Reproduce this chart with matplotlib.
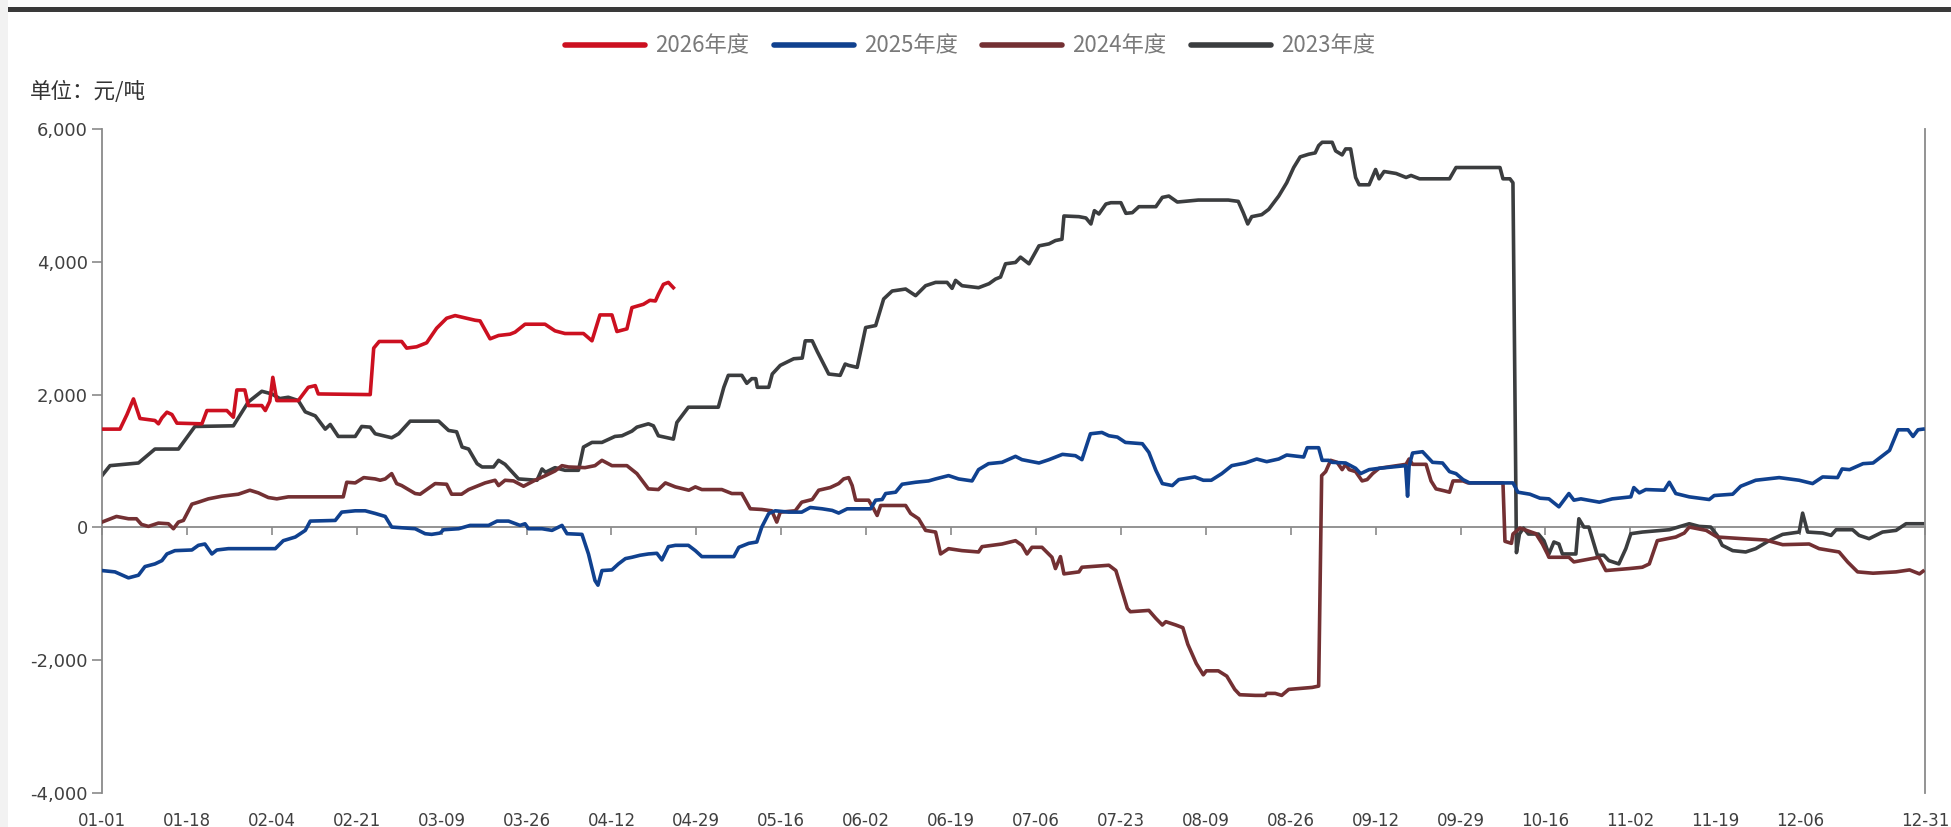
import matplotlib
matplotlib.use("Agg")
import matplotlib.pyplot as plt
from matplotlib.ticker import FuncFormatter, FixedLocator
from matplotlib.patches import Rectangle

plt.rcParams['font.family'] = ['DejaVu Sans']

# ---------------- data (x = day index from 01-01, leap-year axis) ----------------
tick_days = [0, 17, 34, 51, 68, 85, 102, 119, 136, 153, 170, 187, 204, 221, 238,
             255, 272, 289, 306, 323, 340, 365]
tick_labels = ["01-01", "01-18", "02-04", "02-21", "03-09", "03-26", "04-12", "04-29",
               "05-16", "06-02", "06-19", "07-06", "07-23", "08-09", "08-26", "09-12",
               "09-29", "10-16", "11-02", "11-19", "12-06", "12-31"]

days_2026 = [0, 3.6, 5, 6.3, 7.6, 10.6, 11.3, 12, 13, 14, 15, 20, 21, 25, 26.3, 27, 28.6,
             29.3, 32, 32.7, 33.6, 34.2, 35, 39.3, 41.3, 42.7, 43.3, 53.7, 54.4, 55.5, 60,
             61, 63, 65, 67, 69, 70.7, 74.7, 75.7, 77.7, 79.4, 81.7, 82.7, 84.7, 88.7, 90.7,
             92.7, 96.4, 98.1, 99.7, 102.1, 103.1, 105.1, 106.1, 108.4, 109.7, 110.8, 111.4,
             112.4, 113.4, 114.4]
vals_2026 = [1480, 1480, 1700, 1935, 1640, 1610, 1560, 1650, 1735, 1700, 1570, 1560, 1760,
             1760, 1660, 2070, 2070, 1835, 1835, 1760, 1900, 2260, 1910, 1910, 2110, 2135,
             2010, 2000, 2700, 2800, 2800, 2700, 2720, 2780, 3000, 3150, 3190, 3120, 3110,
             2840, 2890, 2910, 2940, 3060, 3060, 2960, 2920, 2920, 2810, 3200, 3200, 2950,
             2990, 3310, 3360, 3420, 3410, 3510, 3660, 3690, 3610]

days_2025 = [0, 2.6, 5.3, 7.3, 8.6, 10.6, 12, 13, 14.6, 18, 19.3, 20.6, 22, 23, 25.3, 34.7,
             36.3, 38.7, 40.7, 41.7, 46.7, 48, 50.7, 52.7, 54.7, 56.7, 58, 62.7, 64.7, 66,
             67.7, 68.4, 71.4, 73.7, 77.4, 79.1, 81.4, 83.7, 84.7, 85.4, 88.1, 90.1, 92.1,
             93.1, 96.1, 97.4, 98.7, 99.3, 100.1, 102.1, 103.4, 104.8, 106.1, 107.7, 109.4,
             111.1, 112.1, 113.4, 114.8, 117.4, 118.8, 120.1, 126.5, 127.5, 129.5, 131.1,
             132.1, 133.5, 134.8, 137.5, 140.1, 141.8, 144.2, 146.2, 147.5, 149.2, 153.9,
             154.9, 156.2, 156.9, 158.9, 160.2, 162.9, 165.5, 166.9, 169.5, 171.5, 174.2,
             175.5, 177.5, 180.2, 182.9, 184.2, 187.6, 189.6, 192.3, 194.9, 196.2, 197.9,
             200.2, 201.6, 203.3, 204.9, 208.3, 209.6, 211, 212.3, 214.3, 215.6, 218.8,
             220.5, 222.1, 224.2, 226.2, 228.9, 231.2, 233.2, 235.6, 237.2, 240.6, 241.3,
             243.6, 244.3, 245.6, 246.3, 249, 251, 252, 253.7, 255.7, 258.4, 261, 261.4,
             261.7, 262.4, 264.4, 265.4, 266.4, 268.4, 269.8, 271.1, 272.5, 273.8, 282.5,
             283.5, 285.9, 287.9, 289.7, 291.7, 293.7, 294.7, 296.1, 299.8, 302.4, 306.1,
             306.7, 307.8, 309.1, 312.8, 313.8, 315.1, 317.8, 321.8, 322.8, 326.5, 328.1,
             331.1, 335.8, 339.8, 342.5, 344.5, 347.5, 348.4, 349.9, 352.6, 354.6, 357.9,
             359.6, 361.6, 362.6, 363.6, 364.6]
vals_2025 = [-650, -670, -760, -720, -590, -550, -500, -400, -350, -340, -270, -250, -400,
             -340, -320, -320, -200, -145, -45, 95, 105, 230, 250, 250, 210, 165, 5, -20,
             -95, -105, -85, -35, -20, 30, 30, 95, 95, 30, 55, -20, -20, -45, 30, -95, -105,
             -400, -800, -870, -650, -640, -550, -470, -450, -420, -400, -390, -490, -290,
             -270, -270, -350, -440, -440, -300, -240, -220, 5, 210, 250, 230, 230, 300, 280,
             256, 216, 280, 280, 410, 420, 510, 530, 650, 680, 700, 730, 780, 730, 700, 870,
             960, 980, 1070, 1020, 970, 1020, 1100, 1080, 1020, 1410, 1430, 1380, 1360, 1280,
             1260, 1130, 860, 660, 630, 720, 760, 710, 710, 810, 930, 970, 1030, 990, 1030,
             1090, 1060, 1200, 1200, 1010, 1010, 980, 970, 890, 810, 870, 890, 910, 930, 470,
             920, 1120, 1140, 1060, 980, 970, 840, 810, 720, 670, 670, 530, 500, 440, 430,
             310, 510, 410, 430, 380, 430, 460, 600, 520, 570, 560, 680, 510, 460, 420, 480,
             500, 620, 710, 750, 710, 660, 760, 750, 880, 870, 960, 970, 1160, 1470, 1470,
             1370, 1470, 1480]

days_2024 = [0, 2.9, 5.3, 6.9, 7.9, 9.3, 11.3, 13.3, 14.3, 15.3, 16.3, 18, 19.3, 21.3, 24,
             27.3, 29.6, 31.3, 33.3, 35, 37.3, 48.3, 49, 50.7, 52.4, 54.7, 55.7, 56.7, 58, 59,
             60, 62.7, 63.7, 66.7, 69, 70, 72, 73.4, 76.7, 78.7, 79.4, 80.7, 82.4, 84.4,
             86.7, 88.8, 90.7, 92.1, 93.4, 96.7, 98.7, 100.1, 102.1, 105.1, 107.1, 109.4,
             111.4, 112.8, 114.8, 117.5, 118.8, 120.1, 124.1, 126.1, 128.1, 129.8, 132.1,
             134.1, 135.1, 135.8, 138.8, 140.1, 142.2, 143.5, 145.8, 147.5, 148.5, 149.5,
             150.2, 150.9, 153.5, 154.5, 155.2, 155.9, 160.9, 161.9, 163.5, 164.9, 166.9,
             167.9, 169.5, 172.2, 175.5, 176.2, 178.2, 180.2, 182.9, 184.2, 185.2, 186.2,
             188.2, 190.2, 190.9, 191.9, 192.6, 195.6, 196.2, 201.6, 203, 205.3, 205.9,
             209.6, 211, 212.3, 213, 215, 216.4, 217.4, 219.1, 220.5, 221.1, 223.5, 225.2,
             226.8, 227.8, 230.9, 232.9, 233.2, 234.9, 236.2, 237.6, 242.3, 243.6, 244.2,
             245, 246, 247.3, 248.3, 249, 249.7, 251, 252.3, 253.3, 254.4, 255.7, 258.4,
             261.1, 261.7, 262.4, 265.1, 266.1, 267.1, 268.8, 269.8, 270.5, 272.5, 273.5,
             280.5, 280.9, 282.2, 282.5, 283.9, 287.1, 288.4, 289.4, 289.7, 293.7, 294.7,
             299.7, 301.1, 305.8, 308.4, 309.8, 311.4, 315.1, 316.8, 317.8, 321.2, 323.4,
             328.5, 333.1, 336.5, 341.8, 343.8, 347.8, 349.5, 351.5, 354.6, 359.2, 361.9,
             363.9, 364.6]
vals_2024 = [80, 165, 130, 130, 45, 15, 65, 55, -20, 80, 105, 350, 380, 430, 470, 500, 560,
             520, 450, 430, 460, 460, 680, 670, 750, 730, 710, 730, 810, 660, 630, 510, 500,
             660, 650, 500, 500, 570, 670, 710, 630, 710, 700, 620, 710, 780, 850, 930, 910,
             900, 930, 1010, 930, 930, 810, 580, 570, 670, 610, 560, 610, 570, 570, 510, 510,
             280, 270, 250, 80, 230, 250, 380, 420, 560, 600, 660, 730, 750, 630, 410, 410,
             280, 180, 330, 330, 210, 130, -45, -70, -400, -320, -350, -370, -290, -270,
             -250, -200, -270, -400, -300, -300, -450, -620, -440, -700, -670, -600, -570,
             -650, -1220, -1270, -1250, -1370, -1470, -1420, -1470, -1510, -1760, -2050,
             -2220, -2160, -2160, -2240, -2440, -2520, -2530, -2530, -2500, -2500, -2530,
             -2440, -2410, -2390, 780, 840, 1010, 980, 870, 950, 870, 840, 700, 720, 810, 890,
             920, 950, 1030, 950, 950, 700, 580, 550, 530, 700, 700, 670, 670, -210, -240,
             -100, -10, -95, -250, -400, -450, -450, -520, -450, -650, -620, -600, -550, -200,
             -145, -85, 5, -45, -145, -170, -190, -260, -250, -320, -370, -520, -670, -690,
             -670, -640, -700, -660]

days_2023 = [0, 1.6, 7.3, 10.6, 15.3, 18.6, 26.3, 29.3, 32, 34, 35.6, 37.3, 39.3, 40.7,
             42.7, 44.7, 45.7, 47.3, 50.7, 52, 53.7, 54.7, 58, 59.4, 61.7, 67.4, 69.4, 71,
             72.1, 73.4, 75.1, 76.1, 78.4, 79.4, 80.7, 82.4, 83.4, 87.1, 88.1, 88.8, 90.7,
             92.7, 95.4, 96.4, 98.1, 100.1, 102.7, 104.1, 106.1, 107.1, 109.4, 110.4, 111.4,
             114.4, 115.1, 117.4, 123.4, 124.5, 125.4, 128.1, 129.1, 130.1, 130.9, 131.2,
             133.5, 134.2, 135.8, 138.5, 140.2, 140.8, 142.2, 143.2, 145.5, 147.8, 148.8,
             149.5, 151.2, 152.9, 154.9, 156.5, 158.2, 160.9, 162.9, 164.9, 166.9, 169.2,
             170.2, 170.9, 172.2, 175.5, 177.6, 178.9, 179.9, 180.9, 182.9, 183.9, 185.6,
             187.6, 189.6, 190.9, 192.2, 192.6, 195.6, 197, 198, 198.7, 199.6, 201, 202, 204,
             205, 206.3, 207.6, 211, 212.3, 213.6, 215.3, 219.5, 225.5, 227.5, 228.5, 229.4,
             230.2, 232.2, 233.6, 235.6, 237.2, 238.6, 239.9, 241.6, 242.9, 243.6, 244.3,
             246.3, 247, 248.3, 249, 250, 251, 251.7, 253.7, 255, 255.7, 256.7, 259.1, 261.1,
             262.1, 263.8, 269.8, 271.1, 279.9, 280.5, 281.9, 282.5, 283.2, 283.8, 284.6,
             285.6, 287.6, 288.7, 289.7, 290.7, 291.7, 292.4, 295.1, 295.7, 296.7, 297.7,
             299.4, 300.7, 301.7, 303.7, 305.1, 306.1, 308.4, 313.8, 317.8, 319.8, 322.1,
             323.4, 324.4, 326.5, 329.1, 331.1, 333.8, 336.5, 339.8, 340.5, 341.5, 344.5,
             346.2, 347.2, 350.5, 351.8, 353.8, 356.5, 359.2, 361.2, 364.6]
vals_2023 = [780, 930, 970, 1180, 1180, 1520, 1530, 1890, 2050, 2010, 1940, 1960, 1910, 1740,
             1680, 1480, 1550, 1370, 1370, 1520, 1510, 1410, 1350, 1410, 1600, 1600, 1460,
             1440, 1210, 1180, 960, 910, 910, 1010, 950, 810, 730, 710, 880, 830, 900, 860,
             860, 1210, 1280, 1280, 1370, 1380, 1450, 1510, 1560, 1530, 1380, 1330, 1580,
             1810, 1810, 2110, 2290, 2290, 2170, 2240, 2240, 2110, 2110, 2310, 2440, 2540,
             2550, 2810, 2810, 2650, 2310, 2290, 2460, 2440, 2410, 3010, 3040, 3440, 3560,
             3590, 3490, 3640, 3690, 3690, 3600, 3720, 3640, 3610, 3670, 3740, 3770, 3970,
             3990, 4070, 3970, 4240, 4270, 4320, 4340, 4690, 4680, 4660, 4570, 4770, 4720,
             4870, 4890, 4890, 4730, 4740, 4830, 4830, 4970, 4990, 4900, 4930, 4930, 4910,
             4740, 4570, 4680, 4710, 4790, 4990, 5190, 5420, 5580, 5620, 5640, 5750, 5800,
             5800, 5670, 5610, 5700, 5700, 5270, 5160, 5160, 5390, 5250, 5360, 5330, 5270,
             5300, 5250, 5250, 5420, 5420, 5250, 5250, 5190, -380, -100, -10, -100, -100,
             -200, -400, -220, -250, -400, -400, 130, 5, 5, -420, -420, -500, -550, -320, -95,
             -70, -35, 55, 15, 5, -120, -270, -350, -370, -320, -200, -105, -70, 215, -70,
             -85, -120, -35, -35, -120, -170, -70, -45, 55, 55]

series = [
    ("2026年度", days_2026, vals_2026, "#cc1020"),
    ("2025年度", days_2025, vals_2025, "#10418f"),
    ("2024年度", days_2024, vals_2024, "#733033"),
    ("2023年度", days_2023, vals_2023, "#3b3d3f"),
]
unit_label = "单位：元/吨"

# ---------------- figure ----------------
W, H = 1951, 827
fig = plt.figure(figsize=(W / 100, H / 100), dpi=100)
fig.patch.set_facecolor("white")

# decorative top bar and light left strip
fig.add_artist(Rectangle((7 / W, 1 - 12 / H), 1, 5 / H, transform=fig.transFigure,
                         color="#3a3a3a", lw=0))
fig.add_artist(Rectangle((0, 0), 8 / W, 1, transform=fig.transFigure,
                         color="#f2f2f2", lw=0))

ax = fig.add_axes([102 / W, 1 - 793 / H, (1925 - 102) / W, (793 - 129) / H])
ax.set_facecolor("white")

z = {"2023年度": 2, "2024年度": 3, "2025年度": 4, "2026年度": 5}
lines = {}
for name, d, v, c in series:
    ln, = ax.plot(d, v, color=c, lw=2.6, solid_joinstyle="round", zorder=z[name], label=name)
    lines[name] = ln

ax.set_xlim(0, 365)
ax.set_ylim(-4000, 6000)
ax.set_yticks([-4000, -2000, 0, 2000, 4000, 6000])
ax.yaxis.set_major_formatter(FuncFormatter(lambda y, p: f"{int(y):,}"))

ax.spines["top"].set_visible(False)
for s in ["left", "right", "bottom"]:
    ax.spines[s].set_color("#8a8a8a")
    ax.spines[s].set_linewidth(1.3)
ax.spines["bottom"].set_position(("data", 0))
ax.spines["bottom"].set_zorder(1)

ax.tick_params(axis="y", direction="out", length=7, width=1.2, color="#8a8a8a",
               labelsize=13, labelcolor="#404040", pad=3)
ax.xaxis.set_major_locator(FixedLocator(tick_days))
ax.tick_params(axis="x", direction="out", length=6, width=1.2, color="#8a8a8a",
               labelbottom=False)

sec = ax.secondary_xaxis("bottom")
sec.set_xticks(tick_days)
sec.set_xticklabels(tick_labels)
sec.tick_params(length=0, labelsize=12, labelcolor="#404040", pad=14)
sec.spines["bottom"].set_visible(False)

# unit label
fig.text(30 / W, 1 - 92 / H, unit_label, fontsize=15.5, color="#333333",
         family=["Noto Sans CJK SC", "DejaVu Sans"], va="center", ha="left")

# legend
leg = fig.legend([lines[n] for n, *_ in series], [n for n, *_ in series],
                 loc="center", bbox_to_anchor=(970 / W, 1 - 46 / H), ncol=4,
                 frameon=False, handlelength=3.6, handletextpad=0.45, columnspacing=1.1,
                 prop={"family": ["Noto Sans CJK SC", "DejaVu Sans"], "size": 16})
for t in leg.get_texts():
    t.set_color("#7a7a7a")
for h in leg.legend_handles:
    h.set_linewidth(4)
    h.set_solid_capstyle("round")

fig.savefig("out.png", dpi=100, facecolor="white")
